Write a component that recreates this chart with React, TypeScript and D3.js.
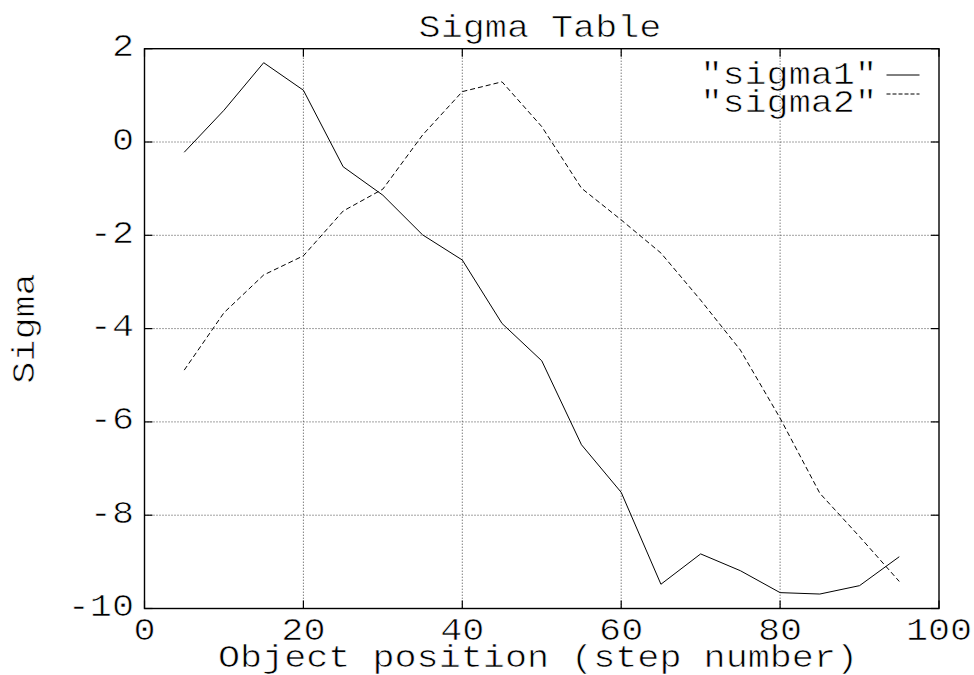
import React from "react";
import * as d3 from "d3";

const steps = [5, 10, 15, 20, 25, 30, 35, 40, 45, 50, 55, 60, 65, 70, 75, 80, 85, 90, 95];
const sigma1 = [-0.22, 0.68, 1.7, 1.11, -0.53, -1.14, -1.99, -2.53, -3.89, -4.69, -6.49, -7.51, -9.48, -8.83, -9.19, -9.66, -9.69, -9.51, -8.89];
const sigma2 = [-4.89, -3.66, -2.85, -2.44, -1.48, -1.01, 0.15, 1.08, 1.29, 0.33, -0.99, -1.67, -2.38, -3.39, -4.46, -5.92, -7.53, -8.46, -9.42];
const xTicks = [0, 20, 40, 60, 80, 100];
const yTicks = [2, 0, -2, -4, -6, -8, -10];
const seriesNames = ['"sigma1"', '"sigma2"'];

const W = 974;
const H = 675;
const left = 144.5;
const right = 939;
const top = 48.7;
const bottom = 608.5;
const FONT = "'Liberation Mono', 'DejaVu Sans Mono', monospace";
const FS = 32;
const SX = 1.15;

function T({ x, y, anchor = "start", rotate = 0, children }: any) {
  return (
    <text
      transform={`translate(${x},${y}) rotate(${rotate}) scale(${SX},1)`}
      textAnchor={anchor}
      fontFamily={FONT}
      fontSize={FS}
      fill="#000"
      stroke="#fff"
      strokeWidth={0.65}
    >
      {children}
    </text>
  );
}

export default function App() {
  const x = d3.scaleLinear().domain([0, 100]).range([left, right]);
  const y = d3.scaleLinear().domain([-10, 2]).range([bottom, top]);
  const line1 = d3
    .line<number>()
    .x((_, i) => x(steps[i]))
    .y((d) => y(d));
  const tick = 8;

  return (
    <svg
      width={W}
      height={H}
      style={{ position: "absolute", left: 0, top: 0, background: "#fff" }}
    >
      <rect x={0} y={0} width={W} height={H} fill="#fff" />
      {/* grid */}
      {xTicks
        .filter((t) => t > 0 && t < 100)
        .map((t) => (
          <line
            key={"gx" + t}
            x1={x(t)}
            x2={x(t)}
            y1={top}
            y2={bottom}
            stroke="#444"
            strokeWidth={1}
            strokeDasharray="1,2"
          />
        ))}
      {yTicks
        .filter((t) => t < 2 && t > -10)
        .map((t) => (
          <line
            key={"gy" + t}
            x1={left}
            x2={right}
            y1={y(t)}
            y2={y(t)}
            stroke="#444"
            strokeWidth={1}
            strokeDasharray="1,2"
          />
        ))}
      {/* ticks */}
      {xTicks.map((t) => (
        <g key={"tx" + t}>
          <line x1={x(t)} x2={x(t)} y1={bottom} y2={bottom - tick} stroke="#000" strokeWidth={1.2} />
          <line x1={x(t)} x2={x(t)} y1={top} y2={top + tick} stroke="#000" strokeWidth={1.2} />
          <T x={x(t)} y={639.5} anchor="middle">
            {String(t)}
          </T>
        </g>
      ))}
      {yTicks.map((t) => (
        <g key={"ty" + t}>
          <line x1={left} x2={left + tick} y1={y(t)} y2={y(t)} stroke="#000" strokeWidth={1.2} />
          <line x1={right} x2={right - tick} y1={y(t)} y2={y(t)} stroke="#000" strokeWidth={1.2} />
          <T x={134} y={y(t) + 7.5} anchor="end">
            {t < 0 ? "-" + Math.abs(t) : String(t)}
          </T>
        </g>
      ))}
      {/* border */}
      <rect
        x={left}
        y={top}
        width={right - left}
        height={bottom - top}
        fill="none"
        stroke="#000"
        strokeWidth={1.4}
      />
      {/* series */}
      <path d={line1(sigma1) || ""} fill="none" stroke="#000" strokeWidth={1} />
      <path d={line1(sigma2) || ""} fill="none" stroke="#000" strokeWidth={1} strokeDasharray="5,3" />
      {/* legend */}
      <T x={877} y={83.5} anchor="end">
        {seriesNames[0]}
      </T>
      <T x={877} y={111.5} anchor="end">
        {seriesNames[1]}
      </T>
      <line x1={886.5} x2={919.5} y1={75} y2={75} stroke="#000" strokeWidth={1} />
      <line x1={886.5} x2={919.5} y1={94} y2={94} stroke="#000" strokeWidth={1} strokeDasharray="4,2" />
      {/* titles */}
      <T x={540} y={37} anchor="middle">
        Sigma Table
      </T>
      <T x={538} y={667} anchor="middle">
        Object position (step number)
      </T>
      <T x={33.5} y={328.5} anchor="middle" rotate={-90}>
        Sigma
      </T>
    </svg>
  );
}
